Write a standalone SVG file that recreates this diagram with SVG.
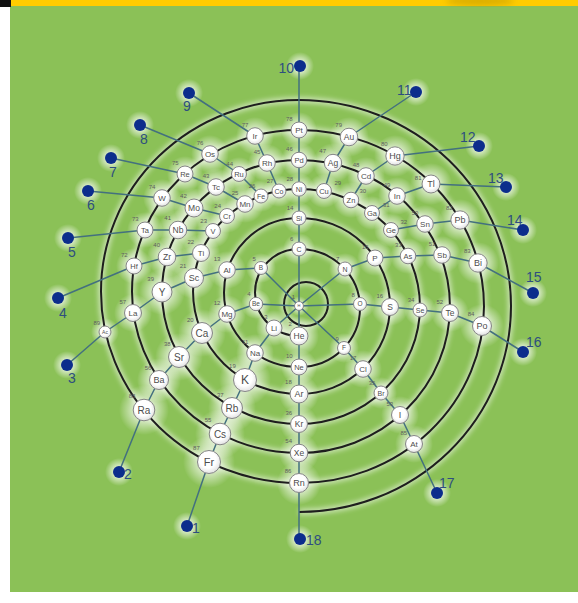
<svg xmlns="http://www.w3.org/2000/svg" width="578" height="603" viewBox="0 0 578 603">
<defs>
<radialGradient id="halo"><stop offset="0" stop-color="#fff" stop-opacity="0.95"/><stop offset="0.45" stop-color="#fff" stop-opacity="0.6"/><stop offset="1" stop-color="#fff" stop-opacity="0"/></radialGradient>
<radialGradient id="ball" cx="0.45" cy="0.4" r="0.6"><stop offset="0.6" stop-color="#fff"/><stop offset="1" stop-color="#e2e2e2"/></radialGradient>
<filter id="blur" x="-10%" y="-10%" width="120%" height="120%"><feGaussianBlur stdDeviation="2.5"/></filter>
<filter id="blur2"><feGaussianBlur stdDeviation="3"/></filter>
<style>
.ln{fill:none;stroke:#43707f;stroke-width:1.5;stroke-linejoin:round}
.sp{fill:none;stroke:#1e1e1e;stroke-width:2}
.nd{fill:url(#ball);stroke:#858585;stroke-width:1}
.sy{font-family:"Liberation Sans",Arial,sans-serif;fill:#4d4d4d;text-anchor:middle}
.nu{font-family:"Liberation Sans",Arial,sans-serif;font-size:6px;fill:#5e5e5e;text-anchor:end}
.nr{font-family:"Liberation Sans",Arial,sans-serif;font-size:6px;fill:#5e5e5e;text-anchor:start}
.dot{fill:#0c2d8c}
.gl{font-family:"Liberation Sans",Arial,sans-serif;font-size:14px;fill:#2e4e80}
.hl{fill:url(#halo)}
</style>
</defs>
<rect x="0" y="0" width="578" height="603" fill="#fff"/>
<rect x="10" y="6" width="568" height="586" fill="#8bc157"/>
<rect x="11" y="0" width="567" height="6" fill="#ffcc00"/>
<rect x="0" y="0" width="11" height="7" fill="#111"/>
<ellipse cx="480" cy="1" rx="34" ry="5" fill="#c29a00" opacity="0.6" filter="url(#blur2)"/>

<g id="glow-lines" filter="url(#blur)" opacity="0.55" fill="none" stroke="#fff" stroke-width="6">
<path d="M299,336 A44,43.5 0 0 1 299,249 A61,59 0 0 1 299,367 A75,74.5 0 0 1 299,218 A91,88 0 0 1 299,394 A106,102.5 0 0 1 299,189 A121,117.5 0 0 1 299,424 A137,132 0 0 1 299,160 A151,146.5 0 0 1 299,453 A167,161.5 0 0 1 299,130 A185,176.5 0 0 1 299,483 A198,191.5 0 0 1 299,100 A212,206 0 0 1 299,512"/>
<circle cx="306" cy="304" r="22"/>
</g>

<g id="halos">
<circle class="hl" cx="299" cy="306" r="10"/>
<circle class="hl" cx="299" cy="336" r="20"/><circle class="hl" cx="274" cy="328" r="18"/><circle class="hl" cx="256" cy="304" r="15"/><circle class="hl" cx="261" cy="268" r="15"/><circle class="hl" cx="299" cy="249" r="16"/><circle class="hl" cx="345" cy="269" r="16"/><circle class="hl" cx="360" cy="304" r="15"/><circle class="hl" cx="344" cy="348" r="15"/><circle class="hl" cx="299" cy="367" r="18"/>
<circle class="hl" cx="255" cy="353" r="19"/><circle class="hl" cx="227" cy="314" r="19"/><circle class="hl" cx="227" cy="270" r="19"/><circle class="hl" cx="299" cy="218" r="16"/><circle class="hl" cx="375" cy="258" r="18"/><circle class="hl" cx="390" cy="307" r="19"/><circle class="hl" cx="363" cy="369" r="19"/><circle class="hl" cx="299" cy="394" r="20"/>
<circle class="hl" cx="245" cy="380" r="26"/><circle class="hl" cx="202" cy="333" r="24"/><circle class="hl" cx="194" cy="278" r="21"/><circle class="hl" cx="201" cy="253" r="19"/><circle class="hl" cx="213" cy="231" r="17"/><circle class="hl" cx="227" cy="216" r="17"/><circle class="hl" cx="245" cy="204" r="19"/><circle class="hl" cx="261" cy="196" r="16"/><circle class="hl" cx="279" cy="191" r="16"/><circle class="hl" cx="299" cy="189" r="16"/><circle class="hl" cx="324" cy="191" r="17"/><circle class="hl" cx="351" cy="200" r="18"/><circle class="hl" cx="372" cy="213" r="17"/><circle class="hl" cx="391" cy="230" r="17"/><circle class="hl" cx="408" cy="256" r="18"/><circle class="hl" cx="420" cy="310" r="16"/><circle class="hl" cx="381" cy="393" r="16"/><circle class="hl" cx="299" cy="424" r="19"/>
<circle class="hl" cx="232" cy="408" r="24"/><circle class="hl" cx="179" cy="357" r="24"/><circle class="hl" cx="162" cy="292" r="23"/><circle class="hl" cx="167" cy="257" r="20"/><circle class="hl" cx="178" cy="230" r="20"/><circle class="hl" cx="194" cy="208" r="20"/><circle class="hl" cx="216" cy="187" r="19"/><circle class="hl" cx="239" cy="174" r="17"/><circle class="hl" cx="267" cy="163" r="19"/><circle class="hl" cx="299" cy="160" r="18"/><circle class="hl" cx="333" cy="163" r="20"/><circle class="hl" cx="366" cy="176" r="19"/><circle class="hl" cx="397" cy="196" r="19"/><circle class="hl" cx="425" cy="224" r="19"/><circle class="hl" cx="442" cy="255" r="19"/><circle class="hl" cx="450" cy="313" r="19"/><circle class="hl" cx="400" cy="415" r="19"/><circle class="hl" cx="299" cy="453" r="20"/>
<circle class="hl" cx="220" cy="434" r="25"/><circle class="hl" cx="159" cy="380" r="22"/><circle class="hl" cx="133" cy="313" r="19"/><circle class="hl" cx="134" cy="266" r="18"/><circle class="hl" cx="145" cy="230" r="18"/><circle class="hl" cx="162" cy="198" r="19"/><circle class="hl" cx="185" cy="174" r="18"/><circle class="hl" cx="210" cy="154" r="19"/><circle class="hl" cx="255" cy="136" r="19"/><circle class="hl" cx="299" cy="130" r="18"/><circle class="hl" cx="349" cy="137" r="20"/><circle class="hl" cx="395" cy="156" r="21"/><circle class="hl" cx="431" cy="184" r="21"/><circle class="hl" cx="460" cy="220" r="21"/><circle class="hl" cx="478" cy="263" r="21"/><circle class="hl" cx="482" cy="326" r="22"/><circle class="hl" cx="414" cy="444" r="19"/><circle class="hl" cx="299" cy="483" r="22"/>
<circle class="hl" cx="209" cy="462" r="26"/><circle class="hl" cx="144" cy="410" r="25"/><circle class="hl" cx="105" cy="332" r="14"/>
<circle class="hl" cx="187" cy="526" r="14"/><circle class="hl" cx="119" cy="472" r="14"/><circle class="hl" cx="67" cy="365" r="14"/><circle class="hl" cx="58" cy="298" r="14"/><circle class="hl" cx="68" cy="238" r="14"/><circle class="hl" cx="88" cy="191" r="14"/><circle class="hl" cx="111" cy="158" r="14"/><circle class="hl" cx="140" cy="125" r="14"/><circle class="hl" cx="189" cy="93" r="14"/><circle class="hl" cx="300" cy="66" r="14"/><circle class="hl" cx="416" cy="92" r="14"/><circle class="hl" cx="479" cy="146" r="14"/><circle class="hl" cx="506" cy="187" r="14"/><circle class="hl" cx="523" cy="230" r="14"/><circle class="hl" cx="533" cy="293" r="14"/><circle class="hl" cx="523" cy="352" r="14"/><circle class="hl" cx="437" cy="493" r="14"/><circle class="hl" cx="300" cy="539" r="14"/>
</g>

<g id="connectors">
<g id="spiral">
<path class="sp" d="M299,336 A44,43.5 0 0 1 299,249 A61,59 0 0 1 299,367 A75,74.5 0 0 1 299,218 A91,88 0 0 1 299,394 A106,102.5 0 0 1 299,189 A121,117.5 0 0 1 299,424 A137,132 0 0 1 299,160 A151,146.5 0 0 1 299,453 A167,161.5 0 0 1 299,130 A185,176.5 0 0 1 299,483 A198,191.5 0 0 1 299,100 A212,206 0 0 1 299,512"/>
<circle class="sp" cx="306" cy="304" r="22"/>
</g>
<g id="groups">
<path class="ln" d="M299,306 L274,328 L255,353 L245,380 L232,408 L220,434 L209,462 L187,526"/>
<path class="ln" d="M299,306 L256,304 L227,314 L202,333 L179,357 L159,380 L144,410 L119,472"/>
<path class="ln" d="M299,306 L261,268 L227,270 L194,278 L162,292 L133,313 L105,332 L67,365"/>
<path class="ln" d="M201,253 L167,257 L134,266 L58,298"/>
<path class="ln" d="M213,231 L178,230 L145,230 L68,238"/>
<path class="ln" d="M227,216 L194,208 L162,198 L88,191"/>
<path class="ln" d="M245,204 L216,187 L185,174 L111,158"/>
<path class="ln" d="M261,196 L239,174 L210,154 L140,125"/>
<path class="ln" d="M279,191 L267,163 L255,136 L189,93"/>
<path class="ln" d="M299,306 L299,66"/>
<path class="ln" d="M324,191 L333,163 L349,137 L416,92"/>
<path class="ln" d="M351,200 L366,176 L395,156 L479,146"/>
<path class="ln" d="M372,213 L397,196 L431,184 L506,187"/>
<path class="ln" d="M391,230 L425,224 L460,220 L523,230"/>
<path class="ln" d="M299,306 L345,269 L375,258 L408,256 L442,255 L478,263 L533,293"/>
<path class="ln" d="M299,306 L360,304 L390,307 L420,310 L450,313 L482,326 L523,352"/>
<path class="ln" d="M299,306 L344,348 L363,369 L381,393 L400,415 L414,444 L437,493"/>
<path class="ln" d="M299,306 L299,539"/>
</g>
</g>

<g id="elements">
<g id="H"><circle class="nd" cx="299" cy="306" r="4.5"/><text class="sy" x="299" y="307.4" font-size="4">H</text><text class="nu" x="295" y="299">1</text></g>
<g id="He"><circle class="nd" cx="299" cy="336" r="9"/><text class="sy" x="299" y="339" font-size="8.5">He</text><text class="nu" x="291.8" y="326">2</text></g>
<g id="Li"><circle class="nd" cx="274" cy="328" r="8"/><text class="sy" x="274" y="330.8" font-size="8">Li</text><text class="nu" x="267.6" y="319">3</text></g>
<g id="Be"><circle class="nd" cx="256" cy="304" r="6.7"/><text class="sy" x="256" y="306.3" font-size="6.5">Be</text><text class="nu" x="250.6" y="296.3">4</text></g>
<g id="B"><circle class="nd" cx="261" cy="268" r="6.5"/><text class="sy" x="261" y="270.3" font-size="6.5">B</text><text class="nu" x="255.8" y="260.5">5</text></g>
<g id="C"><circle class="nd" cx="299" cy="249" r="7"/><text class="sy" x="299" y="251.5" font-size="7">C</text><text class="nu" x="293.4" y="241">6</text></g>
<g id="N"><circle class="nd" cx="345" cy="269" r="7"/><text class="sy" x="345" y="271.5" font-size="7">N</text><text class="nu" x="339.4" y="261">7</text></g>
<g id="O"><circle class="nd" cx="360" cy="304" r="6.5"/><text class="sy" x="360" y="306.3" font-size="6.5">O</text><text class="nu" x="354.8" y="296.5">8</text></g>
<g id="F"><circle class="nd" cx="344" cy="348" r="6.5"/><text class="sy" x="344" y="350.3" font-size="6.5">F</text><text class="nu" x="338.8" y="340.5">9</text></g>
<g id="Ne"><circle class="nd" cx="299" cy="367" r="8"/><text class="sy" x="299" y="369.6" font-size="7.5">Ne</text><text class="nu" x="292.6" y="358">10</text></g>
<g id="Na"><circle class="nd" cx="255" cy="353" r="8.3"/><text class="sy" x="255" y="355.8" font-size="8">Na</text><text class="nu" x="248.4" y="343.7">11</text></g>
<g id="Mg"><circle class="nd" cx="227" cy="314" r="8.3"/><text class="sy" x="227" y="316.8" font-size="8">Mg</text><text class="nu" x="220.4" y="304.7">12</text></g>
<g id="Al"><circle class="nd" cx="227" cy="270" r="8.3"/><text class="sy" x="227" y="272.8" font-size="8">Al</text><text class="nu" x="220.4" y="260.7">13</text></g>
<g id="Si"><circle class="nd" cx="299" cy="218" r="7"/><text class="sy" x="299" y="220.5" font-size="7">Si</text><text class="nu" x="293.4" y="210">14</text></g>
<g id="P"><circle class="nd" cx="375" cy="258" r="8"/><text class="sy" x="375" y="260.8" font-size="8">P</text><text class="nu" x="368.6" y="249">15</text></g>
<g id="S"><circle class="nd" cx="390" cy="307" r="8.5"/><text class="sy" x="390" y="310" font-size="8.5">S</text><text class="nu" x="383.2" y="297.5">16</text></g>
<g id="Cl"><circle class="nd" cx="363" cy="369" r="8.3"/><text class="sy" x="363" y="371.8" font-size="8">Cl</text><text class="nu" x="356.4" y="359.7">17</text></g>
<g id="Ar"><circle class="nd" cx="299" cy="394" r="9"/><text class="sy" x="299" y="397.2" font-size="9">Ar</text><text class="nu" x="291.8" y="384">18</text></g>
<g id="K"><circle class="nd" cx="245" cy="380" r="11.5"/><text class="sy" x="245" y="384.2" font-size="12">K</text><text class="nu" x="235.8" y="367.5">19</text></g>
<g id="Ca"><circle class="nd" cx="202" cy="333" r="10.5"/><text class="sy" x="202" y="336.5" font-size="10">Ca</text><text class="nu" x="193.6" y="321.5">20</text></g>
<g id="Sc"><circle class="nd" cx="194" cy="278" r="9.5"/><text class="sy" x="194" y="281.2" font-size="9">Sc</text><text class="nu" x="186.4" y="267.5">21</text></g>
<g id="Ti"><circle class="nd" cx="201" cy="253" r="8.5"/><text class="sy" x="201" y="255.8" font-size="8">Ti</text><text class="nu" x="194.2" y="243.5">22</text></g>
<g id="V"><circle class="nd" cx="213" cy="231" r="7.5"/><text class="sy" x="213" y="233.6" font-size="7.5">V</text><text class="nu" x="207" y="222.5">23</text></g>
<g id="Cr"><circle class="nd" cx="227" cy="216" r="7.5"/><text class="sy" x="227" y="218.6" font-size="7.5">Cr</text><text class="nu" x="221" y="207.5">24</text></g>
<g id="Mn"><circle class="nd" cx="245" cy="204" r="8.3"/><text class="sy" x="245" y="206.8" font-size="8">Mn</text><text class="nu" x="238.4" y="194.7">25</text></g>
<g id="Fe"><circle class="nd" cx="261" cy="196" r="7"/><text class="sy" x="261" y="198.5" font-size="7">Fe</text><text class="nu" x="255.4" y="188">26</text></g>
<g id="Co"><circle class="nd" cx="279" cy="191" r="7"/><text class="sy" x="279" y="193.5" font-size="7">Co</text><text class="nu" x="273.4" y="183">27</text></g>
<g id="Ni"><circle class="nd" cx="299" cy="189" r="7.2"/><text class="sy" x="299" y="191.5" font-size="7">Ni</text><text class="nu" x="293.2" y="180.8">28</text></g>
<g id="Cu"><circle class="nd" cx="324" cy="191" r="7.5"/><text class="sy" x="324" y="193.6" font-size="7.5">Cu</text><text class="nr" x="334.5" y="184.5">29</text></g>
<g id="Zn"><circle class="nd" cx="351" cy="200" r="7.8"/><text class="sy" x="351" y="202.6" font-size="7.5">Zn</text><text class="nr" x="359.5" y="193">30</text></g>
<g id="Ga"><circle class="nd" cx="372" cy="213" r="7.5"/><text class="sy" x="372" y="215.6" font-size="7.5">Ga</text><text class="nr" x="383" y="207">31</text></g>
<g id="Ge"><circle class="nd" cx="391" cy="230" r="7.5"/><text class="sy" x="391" y="232.6" font-size="7.5">Ge</text><text class="nr" x="400.5" y="224">32</text></g>
<g id="As"><circle class="nd" cx="408" cy="256" r="7.8"/><text class="sy" x="408" y="258.6" font-size="7.5">As</text><text class="nu" x="401.8" y="247.2">33</text></g>
<g id="Se"><circle class="nd" cx="420" cy="310" r="7"/><text class="sy" x="420" y="312.5" font-size="7">Se</text><text class="nu" x="414.4" y="302">34</text></g>
<g id="Br"><circle class="nd" cx="381" cy="393" r="7"/><text class="sy" x="381" y="395.5" font-size="7">Br</text><text class="nu" x="375.4" y="385">35</text></g>
<g id="Kr"><circle class="nd" cx="299" cy="424" r="8.5"/><text class="sy" x="299" y="427" font-size="8.5">Kr</text><text class="nu" x="292.2" y="414.5">36</text></g>
<g id="Rb"><circle class="nd" cx="232" cy="408" r="10.5"/><text class="sy" x="232" y="411.5" font-size="10">Rb</text><text class="nu" x="223.6" y="396.5">37</text></g>
<g id="Sr"><circle class="nd" cx="179" cy="357" r="10.5"/><text class="sy" x="179" y="360.5" font-size="10">Sr</text><text class="nu" x="170.6" y="345.5">38</text></g>
<g id="Y"><circle class="nd" cx="162" cy="292" r="10"/><text class="sy" x="162" y="295.5" font-size="10">Y</text><text class="nu" x="154" y="281">39</text></g>
<g id="Zr"><circle class="nd" cx="167" cy="257" r="8.8"/><text class="sy" x="167" y="260" font-size="8.5">Zr</text><text class="nu" x="160" y="247.2">40</text></g>
<g id="Nb"><circle class="nd" cx="178" cy="230" r="8.8"/><text class="sy" x="178" y="233" font-size="8.5">Nb</text><text class="nu" x="171" y="220.2">41</text></g>
<g id="Mo"><circle class="nd" cx="194" cy="208" r="9"/><text class="sy" x="194" y="211" font-size="8.5">Mo</text><text class="nu" x="186.8" y="198">42</text></g>
<g id="Tc"><circle class="nd" cx="216" cy="187" r="8.3"/><text class="sy" x="216" y="189.8" font-size="8">Tc</text><text class="nu" x="209.4" y="177.7">43</text></g>
<g id="Ru"><circle class="nd" cx="239" cy="174" r="7.5"/><text class="sy" x="239" y="176.6" font-size="7.5">Ru</text><text class="nu" x="233" y="165.5">44</text></g>
<g id="Rh"><circle class="nd" cx="267" cy="163" r="8.3"/><text class="sy" x="267" y="165.8" font-size="8">Rh</text><text class="nu" x="260.4" y="153.7">45</text></g>
<g id="Pd"><circle class="nd" cx="299" cy="160" r="7.8"/><text class="sy" x="299" y="162.6" font-size="7.5">Pd</text><text class="nu" x="292.8" y="151.2">46</text></g>
<g id="Ag"><circle class="nd" cx="333" cy="163" r="8.7"/><text class="sy" x="333" y="166" font-size="8.5">Ag</text><text class="nu" x="326" y="153.3">47</text></g>
<g id="Cd"><circle class="nd" cx="366" cy="176" r="8.3"/><text class="sy" x="366" y="178.8" font-size="8">Cd</text><text class="nu" x="359.4" y="166.7">48</text></g>
<g id="In"><circle class="nd" cx="397" cy="196" r="8.3"/><text class="sy" x="397" y="198.8" font-size="8">In</text><text class="nu" x="390.4" y="186.7">49</text></g>
<g id="Sn"><circle class="nd" cx="425" cy="224" r="8.3"/><text class="sy" x="425" y="226.8" font-size="8">Sn</text><text class="nu" x="418.4" y="214.7">50</text></g>
<g id="Sb"><circle class="nd" cx="442" cy="255" r="8.3"/><text class="sy" x="442" y="257.8" font-size="8">Sb</text><text class="nu" x="435.4" y="245.7">51</text></g>
<g id="Te"><circle class="nd" cx="450" cy="313" r="8.5"/><text class="sy" x="450" y="316" font-size="8.5">Te</text><text class="nu" x="443.2" y="303.5">52</text></g>
<g id="I"><circle class="nd" cx="400" cy="415" r="8.5"/><text class="sy" x="400" y="418.2" font-size="9">I</text><text class="nu" x="393.2" y="405.5">53</text></g>
<g id="Xe"><circle class="nd" cx="299" cy="453" r="8.8"/><text class="sy" x="299" y="456" font-size="8.5">Xe</text><text class="nu" x="292" y="443.2">54</text></g>
<g id="Cs"><circle class="nd" cx="220" cy="434" r="10.8"/><text class="sy" x="220" y="437.5" font-size="10">Cs</text><text class="nu" x="211.4" y="422.2">55</text></g>
<g id="Ba"><circle class="nd" cx="159" cy="380" r="9.5"/><text class="sy" x="159" y="383.2" font-size="9">Ba</text><text class="nu" x="151.4" y="369.5">56</text></g>
<g id="La"><circle class="nd" cx="133" cy="313" r="8.5"/><text class="sy" x="133" y="315.8" font-size="8">La</text><text class="nu" x="126.2" y="303.5">57</text></g>
<g id="Hf"><circle class="nd" cx="134" cy="266" r="8"/><text class="sy" x="134" y="268.6" font-size="7.5">Hf</text><text class="nu" x="127.6" y="257">72</text></g>
<g id="Ta"><circle class="nd" cx="145" cy="230" r="8"/><text class="sy" x="145" y="232.6" font-size="7.5">Ta</text><text class="nu" x="138.6" y="221">73</text></g>
<g id="W"><circle class="nd" cx="162" cy="198" r="8.3"/><text class="sy" x="162" y="200.8" font-size="8">W</text><text class="nu" x="155.4" y="188.7">74</text></g>
<g id="Re"><circle class="nd" cx="185" cy="174" r="8"/><text class="sy" x="185" y="176.6" font-size="7.5">Re</text><text class="nu" x="178.6" y="165">75</text></g>
<g id="Os"><circle class="nd" cx="210" cy="154" r="8.3"/><text class="sy" x="210" y="156.8" font-size="8">Os</text><text class="nu" x="203.4" y="144.7">76</text></g>
<g id="Ir"><circle class="nd" cx="255" cy="136" r="8.3"/><text class="sy" x="255" y="138.8" font-size="8">Ir</text><text class="nu" x="248.4" y="126.7">77</text></g>
<g id="Pt"><circle class="nd" cx="299" cy="130" r="8"/><text class="sy" x="299" y="132.8" font-size="8">Pt</text><text class="nu" x="292.6" y="121">78</text></g>
<g id="Au"><circle class="nd" cx="349" cy="137" r="8.8"/><text class="sy" x="349" y="140" font-size="8.5">Au</text><text class="nu" x="342" y="127.2">79</text></g>
<g id="Hg"><circle class="nd" cx="395" cy="156" r="9.2"/><text class="sy" x="395" y="159.2" font-size="9">Hg</text><text class="nu" x="387.6" y="145.8">80</text></g>
<g id="Tl"><circle class="nd" cx="431" cy="184" r="9"/><text class="sy" x="431" y="187.2" font-size="9">Tl</text><text class="nu" x="421.5" y="180">81</text></g>
<g id="Pb"><circle class="nd" cx="460" cy="220" r="9.2"/><text class="sy" x="460" y="223.2" font-size="9">Pb</text><text class="nu" x="452.6" y="209.8">82</text></g>
<g id="Bi"><circle class="nd" cx="478" cy="263" r="9.2"/><text class="sy" x="478" y="266.2" font-size="9">Bi</text><text class="nu" x="470.6" y="252.8">83</text></g>
<g id="Po"><circle class="nd" cx="482" cy="326" r="9.5"/><text class="sy" x="482" y="329.2" font-size="9">Po</text><text class="nu" x="474.4" y="315.5">84</text></g>
<g id="At"><circle class="nd" cx="414" cy="444" r="8.5"/><text class="sy" x="414" y="446.8" font-size="8">At</text><text class="nu" x="407.2" y="434.5">85</text></g>
<g id="Rn"><circle class="nd" cx="299" cy="483" r="9.5"/><text class="sy" x="299" y="486.2" font-size="9">Rn</text><text class="nu" x="291.4" y="472.5">86</text></g>
<g id="Fr"><circle class="nd" cx="209" cy="462" r="11.5"/><text class="sy" x="209" y="465.9" font-size="11">Fr</text><text class="nu" x="199.8" y="449.5">87</text></g>
<g id="Ra"><circle class="nd" cx="144" cy="410" r="10.8"/><text class="sy" x="144" y="413.5" font-size="10">Ra</text><text class="nu" x="135.4" y="398.2">88</text></g>
<g id="Ac"><circle class="nd" cx="105" cy="332" r="6"/><text class="sy" x="105" y="333.8" font-size="5">Ac</text><text class="nu" x="100.2" y="325">89</text></g>
</g>

<g id="group-ends">
<g id="g1"><circle class="dot" cx="187" cy="526" r="6"/><text class="gl" x="192" y="533">1</text></g>
<g id="g2"><circle class="dot" cx="119" cy="472" r="6"/><text class="gl" x="124" y="479">2</text></g>
<g id="g3"><circle class="dot" cx="67" cy="365" r="6"/><text class="gl" x="68" y="383">3</text></g>
<g id="g4"><circle class="dot" cx="58" cy="298" r="6"/><text class="gl" x="59" y="318">4</text></g>
<g id="g5"><circle class="dot" cx="68" cy="238" r="6"/><text class="gl" x="68" y="257">5</text></g>
<g id="g6"><circle class="dot" cx="88" cy="191" r="6"/><text class="gl" x="87" y="210">6</text></g>
<g id="g7"><circle class="dot" cx="111" cy="158" r="6"/><text class="gl" x="109" y="177">7</text></g>
<g id="g8"><circle class="dot" cx="140" cy="125" r="6"/><text class="gl" x="140" y="144">8</text></g>
<g id="g9"><circle class="dot" cx="189" cy="93" r="6"/><text class="gl" x="183" y="111">9</text></g>
<g id="g10"><circle class="dot" cx="300" cy="66" r="6"/><text class="gl" x="294" y="73" text-anchor="end">10</text></g>
<g id="g11"><circle class="dot" cx="416" cy="92" r="6"/><text class="gl" x="397" y="95">11</text></g>
<g id="g12"><circle class="dot" cx="479" cy="146" r="6"/><text class="gl" x="460" y="142">12</text></g>
<g id="g13"><circle class="dot" cx="506" cy="187" r="6"/><text class="gl" x="488" y="183">13</text></g>
<g id="g14"><circle class="dot" cx="523" cy="230" r="6"/><text class="gl" x="507" y="225">14</text></g>
<g id="g15"><circle class="dot" cx="533" cy="293" r="6"/><text class="gl" x="526" y="282">15</text></g>
<g id="g16"><circle class="dot" cx="523" cy="352" r="6"/><text class="gl" x="526" y="347">16</text></g>
<g id="g17"><circle class="dot" cx="437" cy="493" r="6"/><text class="gl" x="439" y="488">17</text></g>
<g id="g18"><circle class="dot" cx="300" cy="539" r="6"/><text class="gl" x="306" y="545">18</text></g>
</g>
</svg>
